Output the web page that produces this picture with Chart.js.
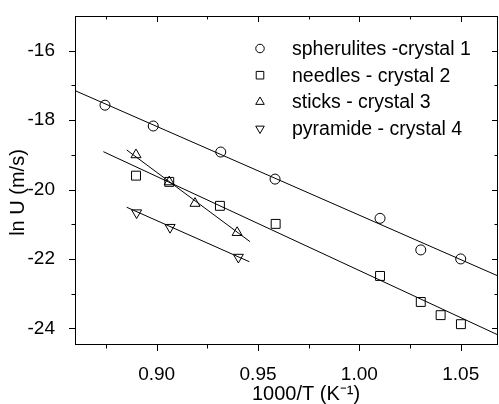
<!DOCTYPE html>
<html>
<head>
<meta charset="utf-8">
<script src="https://cdn.jsdelivr.net/npm/chart.js@4.4.0/dist/chart.umd.min.js"></script>
<style>
  html, body { margin: 0; padding: 0; background: #fff; }
</style>
</head>
<body>
<canvas id="arrheniusChart" width="499" height="404"></canvas>
<script>
// valores (1000/T, ln U)
const spheruX = [0.8745, 0.8983, 0.9316, 0.9584, 1.0102, 1.0303, 1.0500];
const spheruY = [-17.57, -18.17, -18.92, -19.70, -20.83, -21.74, -22.00];
const needlesX = [0.8898, 0.9062, 0.9312, 0.9587, 1.0102, 1.0303, 1.0401, 1.0501];
const needlesY = [-19.60, -19.78, -20.47, -20.99, -22.49, -23.24, -23.62, -23.88];
const sticksX = [0.8898, 0.9062, 0.9189, 0.9397];
const sticksY = [-19.00, -19.78, -20.40, -21.24];
const pyramX = [0.8901, 0.9066, 0.9403];
const pyramY = [-20.67, -21.09, -21.95];

// rectas de ajuste (extremos)
const fitSpheruX = [0.8597, 1.0684];
const fitSpheruY = [-17.15, -22.49];
const fitNeedlesX = [0.8737, 1.0684];
const fitNeedlesY = [-18.91, -24.19];
const fitSticksX = [0.8852, 0.9460];
const fitSticksY = [-18.86, -21.50];
const fitPyramX = [0.8852, 0.9457];
const fitPyramY = [-20.51, -22.08];

const labels = ['spherulites -crystal 1', 'needles - crystal 2', 'sticks - crystal 3', 'pyramide - crystal 4'];
const xTicks = [0.90, 0.95, 1.00, 1.05];
const yTicks = [-24, -22, -20, -18, -16];
const xTitle = '1000/T (K\u207B\u00B9)';
const yTitle = 'ln U (m/s)';

const toPts = (xs, ys) => xs.map((v, i) => ({ x: v, y: ys[i] }));

const FONT = "'Liberation Sans', Arial, sans-serif";
Chart.defaults.color = '#000';
Chart.defaults.font.family = FONT;

function marker(label, xs, ys, style, radius, rotation) {
  return {
    label: label,
    data: toPts(xs, ys),
    pointStyle: style,
    pointRadius: radius,
    pointRotation: rotation || 0,
    pointBorderWidth: 1,
    pointBorderColor: '#000',
    pointBackgroundColor: 'rgba(0,0,0,0)',
    showLine: false
  };
}

function fitLine(xs, ys) {
  return {
    label: '',
    data: toPts(xs, ys),
    showLine: true,
    borderColor: '#000',
    borderWidth: 1,
    pointRadius: 0,
    isFit: true
  };
}

// marcas de los ejes: fuera abajo/izquierda, dentro arriba/derecha
const frameTicks = {
  id: 'frameTicks',
  afterDraw(chart) {
    const { ctx, chartArea: a, scales } = chart;
    const x = scales.x, y = scales.y;
    ctx.save();
    ctx.strokeStyle = '#000';
    ctx.lineWidth = 1;
    ctx.strokeRect(a.left + 0.5, a.top + 0.5, a.right - a.left - 1, a.bottom - a.top - 1);

    const xMarks = [];
    xTicks.forEach(v => { xMarks.push([v, 6]); xMarks.push([v - 0.025, 3.5]); });
    xMarks.push([xTicks[xTicks.length - 1] + 0.025, 3.5]);
    const yMarks = [];
    yTicks.forEach(v => { yMarks.push([v, 6]); yMarks.push([v + 1, 3.5]); });

    ctx.beginPath();
    xMarks.forEach(([v, len]) => {
      if (v < x.min || v > x.max) return;
      const px = Math.round(x.getPixelForValue(v)) + 0.5;
      ctx.moveTo(px, a.bottom); ctx.lineTo(px, a.bottom + len);
      ctx.moveTo(px, a.top); ctx.lineTo(px, a.top + len);
    });
    yMarks.forEach(([v, len]) => {
      if (v <= y.min || v >= y.max) return;
      const py = Math.round(y.getPixelForValue(v)) + 0.5;
      ctx.moveTo(a.left, py); ctx.lineTo(a.left - len, py);
      ctx.moveTo(a.right, py); ctx.lineTo(a.right - len, py);
    });
    ctx.stroke();

    // titulos de los ejes
    ctx.fillStyle = '#000';
    ctx.font = '20px ' + FONT;
    ctx.textAlign = 'center';
    ctx.textBaseline = 'alphabetic';
    ctx.fillText(xTitle, 306, 400);
    ctx.translate(24, 192.5);
    ctx.rotate(-Math.PI / 2);
    ctx.fillText(yTitle, 0, 0);
    ctx.restore();
  }
};

// leyenda dentro del area
const insideLegend = {
  id: 'insideLegend',
  afterDraw(chart) {
    const ctx = chart.ctx;
    const items = chart.data.datasets.filter(d => !d.isFit);
    ctx.save();
    ctx.font = '19.5px ' + FONT;
    ctx.textBaseline = 'middle';
    ctx.textAlign = 'left';
    items.forEach((d, i) => {
      const cy = 48.5 + i * 26.7;
      ctx.strokeStyle = '#000';
      ctx.fillStyle = 'rgba(0,0,0,0)';
      ctx.lineWidth = 1;
      Chart.helpers.drawPoint(ctx, {
        pointStyle: d.pointStyle,
        radius: d.pointRadius * 0.85,
        rotation: d.pointRotation,
        borderWidth: 1
      }, 260, cy);
      ctx.fillStyle = '#000';
      ctx.fillText(d.label, 292, cy + 1);
    });
    ctx.restore();
  }
};

const ctx = document.getElementById('arrheniusChart').getContext('2d');
const arrheniusChart = new Chart(ctx, {
  type: 'scatter',
  data: {
    datasets: [
      marker(labels[0], spheruX, spheruY, 'circle', 5),
      marker(labels[1], needlesX, needlesY, 'rect', 6.3),
      marker(labels[2], sticksX, sticksY, 'triangle', 5.8),
      marker(labels[3], pyramX, pyramY, 'triangle', 5.8, 180),
      fitLine(fitSpheruX, fitSpheruY),
      fitLine(fitNeedlesX, fitNeedlesY),
      fitLine(fitSticksX, fitSticksY),
      fitLine(fitPyramX, fitPyramY)
    ]
  },
  options: {
    responsive: false,
    animation: false,
    // sin autoPadding: el radio de los puntos ya no empuja el area
    layout: { autoPadding: false, padding: { top: 16, right: 1, left: 0, bottom: 0 } },
    plugins: {
      legend: { display: false },
      tooltip: { enabled: false }
    },
    scales: {
      x: {
        type: 'linear',
        min: 0.8597,
        max: 1.0684,
        afterBuildTicks: s => { s.ticks = xTicks.map(v => ({ value: v })); },
        afterFit: s => { s.height = 59; s.paddingLeft = 0; s.paddingRight = 0; },
        grid: { display: false },
        border: { display: false },
        ticks: {
          padding: 10,
          maxRotation: 0,
          font: { size: 19 },
          callback: v => Number(v).toFixed(2)
        }
      },
      y: {
        type: 'linear',
        min: -24.48,
        max: -15,
        afterBuildTicks: s => { s.ticks = yTicks.map(v => ({ value: v })); },
        afterFit: s => { s.width = 75; s.paddingTop = 0; s.paddingBottom = 0; },
        grid: { display: false },
        border: { display: false },
        ticks: {
          padding: 12,
          font: { size: 19 },
          callback: v => String(v)
        }
      }
    }
  },
  plugins: [frameTicks, insideLegend]
});
</script>
</body>
</html>
